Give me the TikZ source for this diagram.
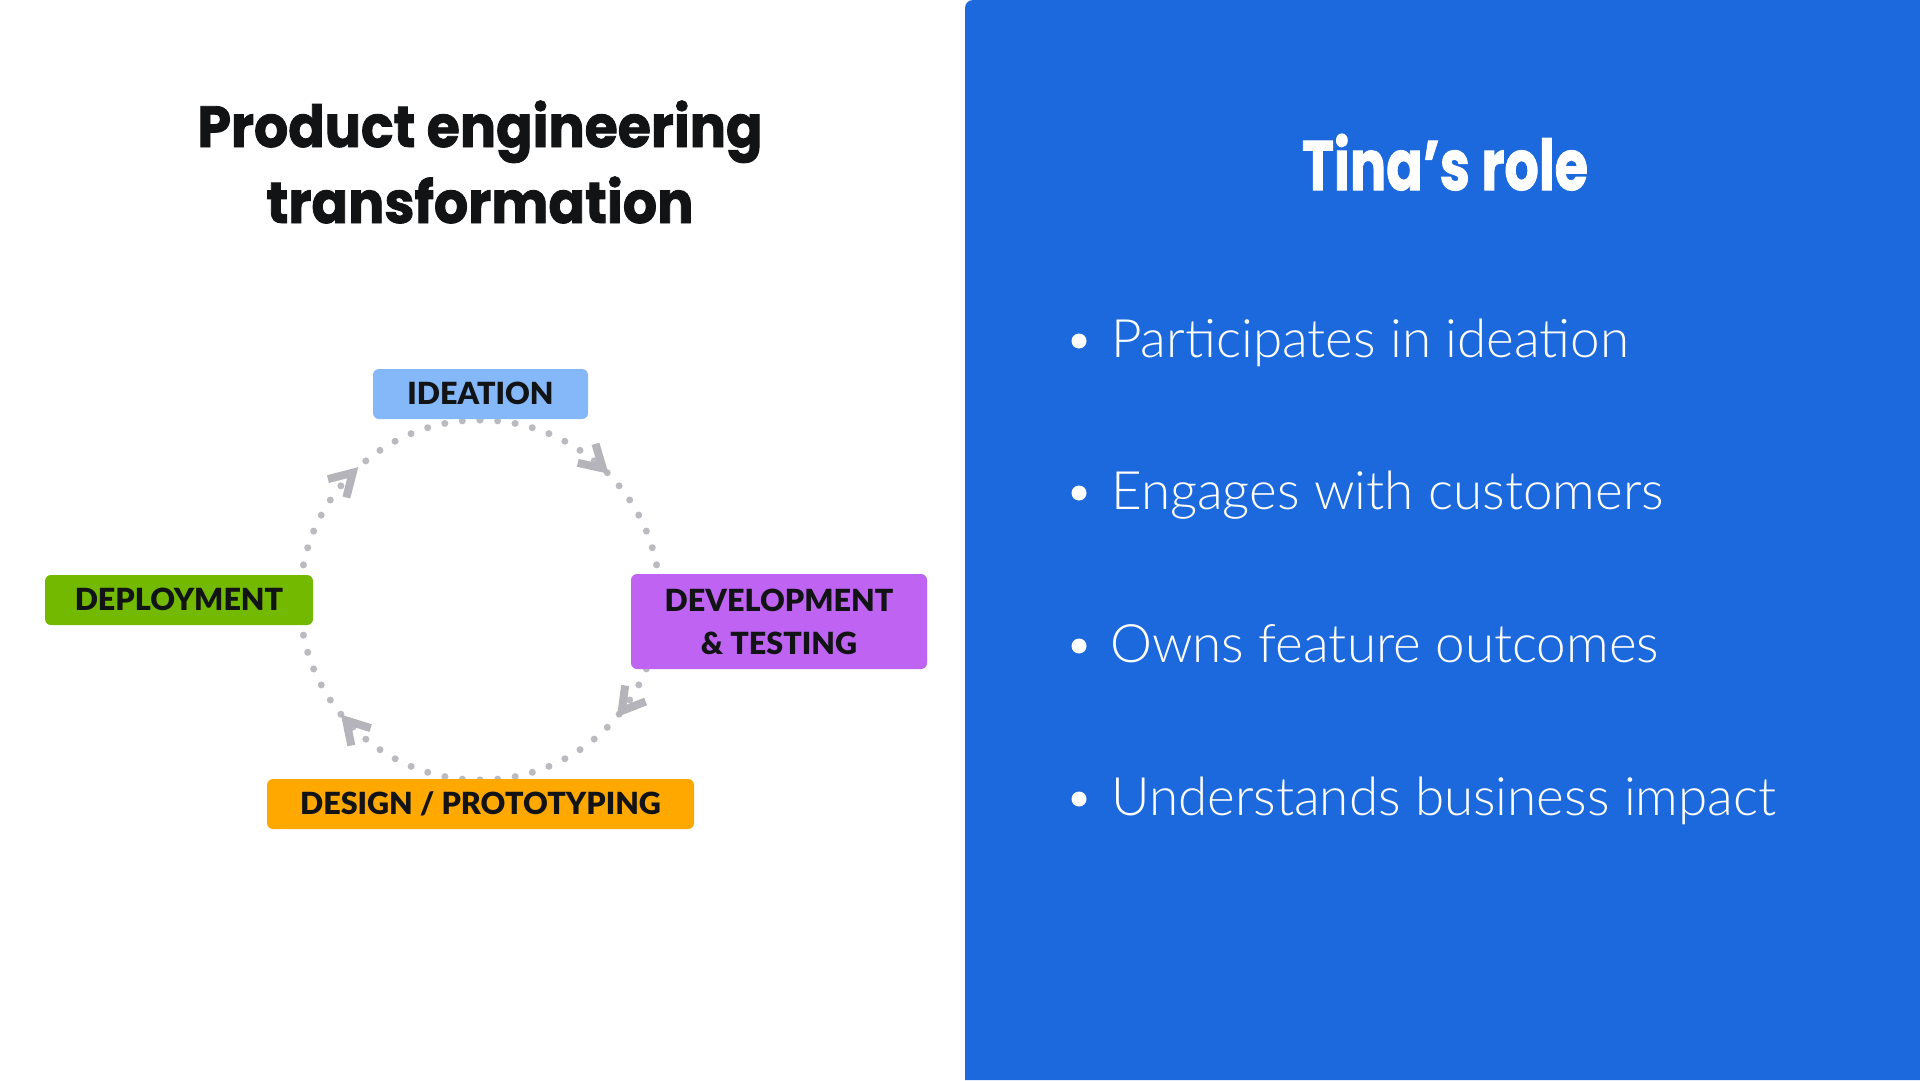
\documentclass[tikz,border=0pt]{standalone}
\usepackage{fontspec}
\setmainfont{Lato}
\newfontfamily\titlefont{Poppins}[BoldFeatures={FakeBold=1.5}]
\newfontfamily\lightfont{Lato Light}
\newfontfamily\labelfont{Lato Black}
\definecolor{panel}{HTML}{1B69DC}
\definecolor{ink}{HTML}{111315}
\definecolor{dotgray}{HTML}{BABAC0}
\definecolor{arrgray}{HTML}{B4B4BA}
\definecolor{cIdea}{HTML}{85B8F9}
\definecolor{cDeploy}{HTML}{72B900}
\definecolor{cDev}{HTML}{BF63F3}
\definecolor{cDesign}{HTML}{FFA900}
\begin{document}
\begin{tikzpicture}[x=1pt,y=1pt,
  stagebox/.style={rounded corners=6pt, inner sep=0pt, text=ink, align=center,
    font=\labelfont\fontsize{30.5}{43}\selectfont},
  cyc/.style={draw=dotgray, line width=7pt, line cap=round,
    dash pattern=on 0pt off 17.67pt},
  chevron/.style={draw=arrgray, line width=8pt, line cap=butt, line join=miter},
  bullettext/.style={anchor=base west, inner sep=0pt, text=white,
    font=\lightfont\fontsize{53}{60}\selectfont},
  bulletdot/.style={circle, fill=white, inner sep=0pt, minimum size=15pt},
  titletext/.style={anchor=base, inner sep=0pt, text=ink,
    font=\titlefont\bfseries\fontsize{58}{75}\selectfont}
]
\path[use as bounding box, fill=white] (0,0) rectangle (1920,-1080);

% right panel
\fill[panel] (965,-1080) -- (965,-8) arc[start angle=180,end angle=90,radius=8] -- (1920,0) -- (1920,-1080) -- cycle;

% titles
\node[titletext] (t1) at (480,-147) {\resizebox{565pt}{\height}{Product engineering}};
\node[titletext] (t2) at (480,-223) {\resizebox{427pt}{\height}{transformation}};
\node[titletext, text=white, font=\titlefont\bfseries\fontsize{70}{80}\selectfont] (tr) at (1445,-190) {\resizebox{286pt}{\height}{Tina’s role}};

% cycle
\coordinate (c) at (480,-600);
\draw[cyc] (c) ++(90:180) arc[start angle=90, end angle=0, radius=180];
\draw[cyc] (c) ++(0:180) arc[start angle=0, end angle=-90, radius=180];
\draw[cyc] (c) ++(-90:180) arc[start angle=-90, end angle=-180, radius=180];
\draw[cyc] (c) ++(180:180) arc[start angle=180, end angle=90, radius=180];

% arrowheads (clockwise flow)
\path (c) ++(47:180) coordinate (a1);
\path (c) ++(-38:180) coordinate (a2);
\path (c) ++(-138:180) coordinate (a3);
\path (c) ++(135:180) coordinate (a4);
\draw[chevron, shift={(a1)}, rotate=-43] (-22,13) -- (0,0) -- (-22,-13);
\draw[chevron, shift={(a2)}, rotate=-128] (-22,13) -- (0,0) -- (-22,-13);
\draw[chevron, shift={(a3)}, rotate=-228] (-22,13) -- (0,0) -- (-22,-13);
\draw[chevron, shift={(a4)}, rotate=45] (-22,13) -- (0,0) -- (-22,-13);

% stages
\node[stagebox, fill=cIdea, minimum width=215pt, minimum height=50pt, text height=21pt, text depth=0pt] (idea) at (480.5,-394) {IDEATION};
\node[stagebox, fill=cDeploy, minimum width=268pt, minimum height=50pt, text height=21pt, text depth=0pt] (deploy) at (179,-600) {DEPLOYMENT};
\node[stagebox, fill=cDev, minimum width=296pt, minimum height=95pt] (dev) at (779,-621.5) {DEVELOPMENT\\\& TESTING};
\node[stagebox, fill=cDesign, minimum width=427pt, minimum height=50pt, text height=21pt, text depth=0pt] (design) at (480.5,-804) {DESIGN / PROTOTYPING};

% bullets
\node[bulletdot] (d1) at (1079,-341) {};
\node[bulletdot] (d2) at (1079,-493) {};
\node[bulletdot] (d3) at (1079,-646) {};
\node[bulletdot] (d4) at (1079,-799) {};
\node[bullettext] (b1) at (1111,-357) {Participates in ideation};
\node[bullettext] (b2) at (1111,-509) {Engages with customers};
\node[bullettext] (b3) at (1110,-662) {Owns feature outcomes};
\node[bullettext] (b4) at (1111,-815) {Understands business impact};
\end{tikzpicture}
\end{document}
